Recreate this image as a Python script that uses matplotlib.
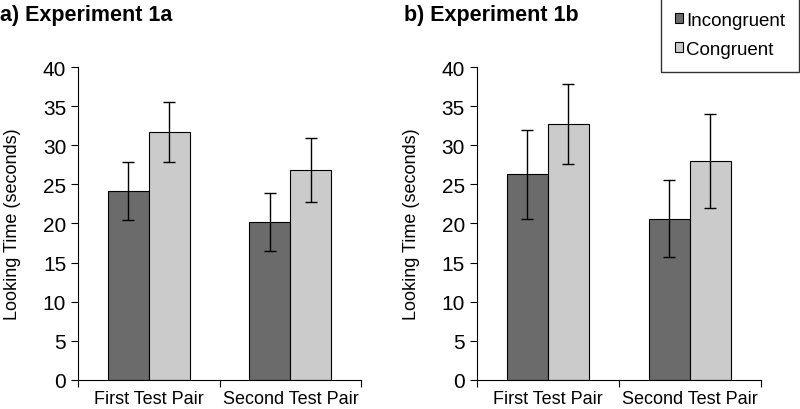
import matplotlib.pyplot as plt
import numpy as np

plt.rcParams['font.family'] = ['Liberation Sans', 'DejaVu Sans']

pairs = ["First Test Pair", "Second Test Pair"]
series = ["Incongruent", "Congruent"]
colors = ["#6b6b6b", "#cbcbcb"]

# Experiment 1a
exp1a_incong = [24.1, 20.2]
exp1a_incong_err = [3.7, 3.7]
exp1a_cong = [31.7, 26.8]
exp1a_cong_err = [3.8, 4.1]

# Experiment 1b
exp1b_incong = [26.3, 20.6]
exp1b_incong_err = [5.7, 4.95]
exp1b_cong = [32.7, 28.0]
exp1b_cong_err = [5.1, 6.0]


def draw_panel(ax, incong, incong_err, cong, cong_err):
    x = np.arange(len(pairs)) + 0.5
    w = 0.29
    ax.bar(x - w / 2, incong, w, color=colors[0], edgecolor="black", linewidth=0.8,
           yerr=incong_err, capsize=4, error_kw=dict(elinewidth=1, capthick=1), label=series[0])
    ax.bar(x + w / 2, cong, w, color=colors[1], edgecolor="black", linewidth=0.8,
           yerr=cong_err, capsize=4, error_kw=dict(elinewidth=1, capthick=1), label=series[1])
    ax.set_xlim(0, 2)
    ax.set_ylim(0, 40)
    ax.set_yticks(range(0, 41, 5))
    ax.set_xticks([0, 1, 2])
    ax.set_xticklabels([])
    ax.set_xticks(x, minor=True)
    ax.set_xticklabels(pairs, minor=True, fontsize=13)
    ax.tick_params(axis="x", which="minor", length=0, pad=7)
    ax.tick_params(axis="x", which="major", length=5, direction="out")
    ax.tick_params(axis="y", labelsize=15, length=5, direction="out")
    ax.spines["top"].set_visible(False)
    ax.spines["right"].set_visible(False)
    ax.set_ylabel("Looking Time (seconds)", fontsize=13)
    ax.yaxis.set_label_coords(-0.2, 0.5)


fig = plt.figure(figsize=(8, 4.1), dpi=100)
ax1 = fig.add_axes([0.0975, 0.071, 0.354, 0.763])
ax2 = fig.add_axes([0.596, 0.071, 0.355, 0.763])

draw_panel(ax1, exp1a_incong, exp1a_incong_err, exp1a_cong, exp1a_cong_err)
draw_panel(ax2, exp1b_incong, exp1b_incong_err, exp1b_cong, exp1b_cong_err)

fig.text(0.0, 0.962, "a) Experiment 1a", fontsize=15.5, fontweight="bold", va="center")
fig.text(0.505, 0.962, "b) Experiment 1b", fontsize=15.5, fontweight="bold", va="center")

handles, labels = ax2.get_legend_handles_labels()
leg = fig.legend(handles, labels, loc="upper right", bbox_to_anchor=(0.999, 1.003),
                 fontsize=13.5, frameon=True, fancybox=False, handlelength=0.45,
                 handleheight=0.45, handletextpad=0.15, borderpad=0.75, labelspacing=0.65,
                 borderaxespad=0.0)
leg.get_frame().set_edgecolor("black")
leg.get_frame().set_linewidth(1)

fig.savefig("out.png", dpi=100)
